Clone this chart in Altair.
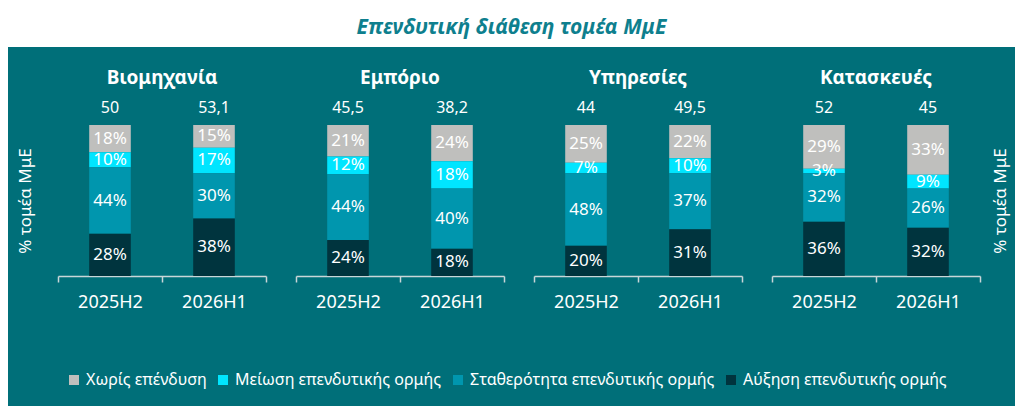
import altair as alt
import pandas as pd

TITLE = 'Επενδυτική διάθεση τομέα ΜμΕ'
AXIS_TITLE = '% τομέα ΜμΕ'
FONT = 'Noto Sans'

sectors = ['Βιομηχανία', 'Εμπόριο', 'Υπηρεσίες', 'Κατασκευές']
periods = ['2025H2', '2026H1']
# legend order (top of the bar first)
series = [
    'Χωρίς επένδυση',
    'Μείωση επενδυτικής ορμής',
    'Σταθερότητα επενδυτικής ορμής',
    'Αύξηση επενδυτικής ορμής',
]
colors = ['#BFBFBD', '#00E5FF', '#0096AE', '#00343E']

# shares per sector, one list per period, in the order of `series`
shares = {
    'Βιομηχανία': [[18, 10, 44, 28], [15, 17, 30, 38]],
    'Εμπόριο': [[21, 12, 44, 24], [24, 18, 40, 18]],
    'Υπηρεσίες': [[25, 7, 48, 20], [22, 10, 37, 31]],
    'Κατασκευές': [[29, 3, 32, 36], [33, 9, 26, 32]],
}
totals = {
    'Βιομηχανία': ['50', '53,1'],
    'Εμπόριο': ['45,5', '38,2'],
    'Υπηρεσίες': ['44', '49,5'],
    'Κατασκευές': ['52', '45'],
}

rows = []
for s in sectors:
    for p, vals in zip(periods, shares[s]):
        for k, (name, v) in enumerate(zip(series, vals)):
            # stack from the bottom: Αύξηση first
            rows.append({'sector': s, 'period': p, 'series': name,
                         'value': v, 'order': len(series) - k})
df = pd.DataFrame(rows)

tot_rows = []
for s in sectors:
    for p, t in zip(periods, totals[s]):
        tot_rows.append({'sector': s, 'period': p, 'total': t})
df_tot = pd.DataFrame(tot_rows)

color_scale = alt.Scale(domain=series, range=colors)

X_AXIS = alt.Axis(
    title=None, labelAngle=0, labelFontSize=18, labelColor='#FFFFFF',
    labelFont=FONT, labelPadding=11, tickBand='extent', tickSize=6,
    tickColor='#C9D6D8', domainColor='#C9D6D8', domainWidth=1.5,
    tickWidth=1.5, grid=False)


def y_axis(orient):
    if orient is None:
        return None
    args = dict(
        orient=orient, title=AXIS_TITLE, labels=False, ticks=False,
        domain=False, grid=False, titleFont=FONT, titleFontSize=17,
        titleFontWeight='normal', titleColor='#FFFFFF')
    if orient == 'left':
        args['titlePadding'] = 24
    else:
        args['titlePadding'] = 12
        args['titleAngle'] = 270
        args['titleBaseline'] = 'top'
    return alt.Axis(**args)


def sector_chart(sector, orient=None):
    x = alt.X('period:N', scale=alt.Scale(domain=periods, padding=0),
              axis=X_AXIS)

    base = alt.Chart(df).transform_filter(
        alt.datum.sector == sector
    ).transform_stack(
        stack='value', groupby=['period'], as_=['y0', 'y1'],
        offset='normalize', sort=[alt.SortField('order')]
    ).transform_calculate(
        mid='(datum.y0 + datum.y1) / 2',
        label="datum.value + '%'"
    )

    bars = base.mark_bar(width=alt.RelativeBandSize(0.4)).encode(
        x=x,
        y=alt.Y('y0:Q', scale=alt.Scale(domain=[0, 1], nice=False),
                axis=y_axis(orient)),
        y2='y1:Q',
        color=alt.Color('series:N', scale=color_scale,
                        legend=alt.Legend(title=None)),
    )

    labels = base.mark_text(font=FONT, fontSize=17, color='#FFFFFF').encode(
        x=x,
        y='mid:Q',
        text='label:N',
    )

    tot = alt.Chart(df_tot).transform_filter(
        alt.datum.sector == sector
    ).mark_text(font=FONT, fontSize=16, color='#FFFFFF', dy=-17).encode(
        x=x,
        y=alt.datum(1),
        text='total:N',
    )

    return alt.layer(bars, labels, tot).properties(
        width=208, height=151,
        title=alt.TitleParams(sector, font=FONT, fontSize=19,
                              fontWeight='bold', color='#FFFFFF',
                              offset=12),
    )


# keeps the left axis title off the panel edge
spacer = alt.Chart(pd.DataFrame({'t': ['']})).mark_text().encode(
    text='t:N'
).properties(width=1, height=1)

panels = alt.hconcat(
    spacer,
    alt.hconcat(
        sector_chart(sectors[0], 'left'),
        sector_chart(sectors[1]),
        sector_chart(sectors[2]),
        sector_chart(sectors[3], 'right'),
        spacing=28,
    ),
    spacing=7,
)

head = alt.Chart(pd.DataFrame({'t': [TITLE]})).mark_text(
    font=FONT, fontSize=21, fontStyle='italic', fontWeight='bold',
    color='#0E7F8E'
).encode(text='t:N').properties(
    width=1007, height=39,
    view=alt.ViewBackground(fill='#FFFFFF', stroke=None),
)

chart = alt.vconcat(head, panels, spacing=22).properties(
    background='#006F79',
    padding={'left': 0, 'top': 0, 'right': 0, 'bottom': 18},
).configure_view(
    stroke=None
).configure_legend(
    orient='none', legendX=58, legendY=364, direction='horizontal',
    symbolType='square', symbolSize=100, symbolStrokeWidth=0,
    labelFont=FONT, labelFontSize=16, labelColor='#FFFFFF',
    labelLimit=400, columnPadding=8, labelOffset=4,
)

chart.save('out.html', embed_options={'renderer': 'svg', 'actions': False})
